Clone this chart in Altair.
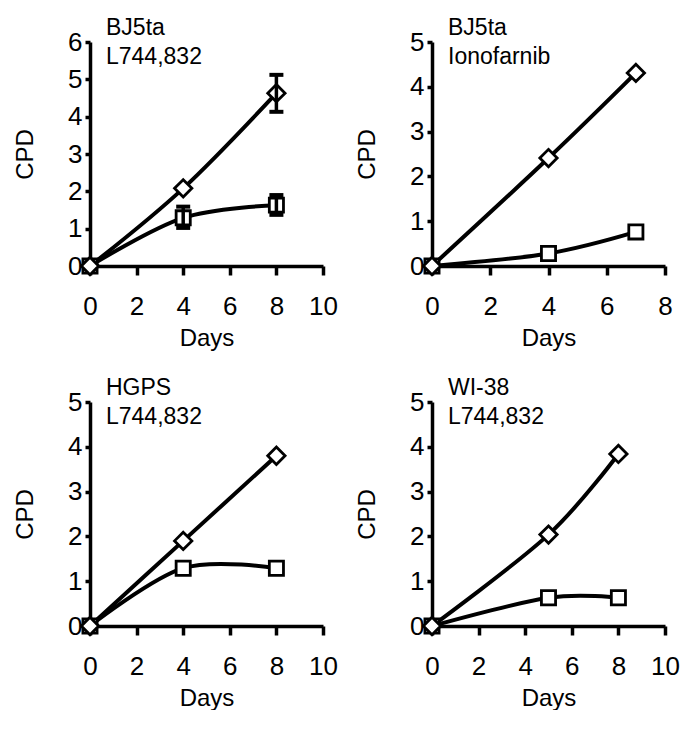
import altair as alt
import pandas as pd

FONT = "Liberation Sans"

# ---- data ----
# Panel 1: BJ5ta L744,832
p1_days = [0, 4, 8]
p1_diamond = [0, 2.08, 4.63]
p1_square = [0, 1.29, 1.63]
p1_err_days = [8, 4, 8]
p1_err_lo = [4.13, 1.02, 1.37]
p1_err_hi = [5.12, 1.59, 1.90]

# Panel 2: BJ5ta Ionofarnib
p2_days = [0, 4, 7]
p2_diamond = [0, 2.41, 4.31]
p2_square = [0, 0.28, 0.76]

# Panel 3: HGPS L744,832
p3_days = [0, 4, 8]
p3_diamond = [0, 1.90, 3.80]
p3_square = [0, 1.29, 1.29]

# Panel 4: WI-38 L744,832
p4_days = [0, 5, 8]
p4_diamond = [0, 2.04, 3.84]
p4_square = [0, 0.63, 0.63]

x_ticks_10 = [0, 2, 4, 6, 8, 10]
x_ticks_8 = [0, 2, 4, 6, 8]
y_ticks_6 = [0, 1, 2, 3, 4, 5, 6]
y_ticks_5 = [0, 1, 2, 3, 4, 5]

PW, PH = 233, 224


def panel(days, diamond, square, xmax, ymax, xvals, yvals, line1, line2,
          err_days=None, err_lo=None, err_hi=None):
    xs = alt.Scale(domain=[0, xmax], nice=False, zero=True)
    ys = alt.Scale(domain=[0, ymax], nice=False, zero=True)
    xax = alt.Axis(values=xvals, title="Days", format="d")
    yax = alt.Axis(values=yvals, title="CPD", format="d")

    def X(field):
        return alt.X(field, scale=xs, axis=xax)

    def Y(field):
        return alt.Y(field, scale=ys, axis=yax)

    d_df = pd.DataFrame({"day": days, "cpd": diamond})
    s_df = pd.DataFrame({"day": days, "cpd": square})

    def line(df):
        return alt.Chart(df).mark_line(
            interpolate="cardinal", color="black", strokeWidth=4
        ).encode(x=X("day:Q"), y=Y("cpd:Q"))

    def pts(df, shape, size):
        return alt.Chart(df).mark_point(
            shape=shape, size=size, filled=True, fill="white",
            stroke="black", strokeWidth=2.8, opacity=1
        ).encode(x=X("day:Q"), y=Y("cpd:Q"))

    layers = [line(s_df), line(d_df),
              pts(s_df, "square", 200), pts(d_df, "diamond", 300)]

    if err_days is not None:
        e_df = pd.DataFrame({"day": err_days, "lo": err_lo, "hi": err_hi})
        layers.append(alt.Chart(e_df).mark_rule(
            color="black", strokeWidth=3.5, opacity=1).encode(
            x=X("day:Q"), y=Y("lo:Q"), y2="hi:Q"))
        layers.append(alt.Chart(e_df).mark_tick(
            color="black", orient="horizontal", size=14, thickness=4, opacity=1
        ).encode(x=X("day:Q"), y=Y("lo:Q")))
        layers.append(alt.Chart(e_df).mark_tick(
            color="black", orient="horizontal", size=14, thickness=4, opacity=1
        ).encode(x=X("day:Q"), y=Y("hi:Q")))

    for i, lab in enumerate([line1, line2]):
        layers.append(
            alt.Chart(pd.DataFrame({"label": [lab]})).mark_text(
                align="left", baseline="middle", font=FONT, fontSize=23, color="black"
            ).encode(text="label:N", x=alt.value(16), y=alt.value(-14 + 29 * i))
        )

    return alt.layer(*layers).properties(width=PW, height=PH)


c1 = panel(p1_days, p1_diamond, p1_square, 10, 6, x_ticks_10, y_ticks_6,
           "BJ5ta", "L744,832", p1_err_days, p1_err_lo, p1_err_hi)
c2 = panel(p2_days, p2_diamond, p2_square, 8, 5, x_ticks_8, y_ticks_5,
           "BJ5ta", "Ionofarnib")
c3 = panel(p3_days, p3_diamond, p3_square, 10, 5, x_ticks_10, y_ticks_5,
           "HGPS", "L744,832")
c4 = panel(p4_days, p4_diamond, p4_square, 10, 5, x_ticks_10, y_ticks_5,
           "WI-38", "L744,832")

chart = alt.concat(
    c1, c2, c3, c4, columns=2,
    spacing=alt.RowColnumber(row=136, column=109), bounds="flush",
).properties(
    padding={"top": 9, "left": 5, "right": 0, "bottom": 0}
).configure_view(stroke=None).configure_axis(
    grid=False,
    domainColor="black", domainWidth=3.5,
    tickColor="black", tickWidth=3.5,
    labelColor="black", titleColor="black",
    labelFont=FONT, titleFont=FONT,
    labelFontSize=26, titleFontSize=24, titleFontWeight="normal",
    labelOverlap=False,
).configure_axisX(
    tickSize=9, labelPadding=18, titlePadding=7, labelFlush=False,
).configure_axisY(
    tickSize=5, labelPadding=3, titlePadding=30,
)

chart.save("out.html", embed_options={"renderer": "svg", "actions": False})
